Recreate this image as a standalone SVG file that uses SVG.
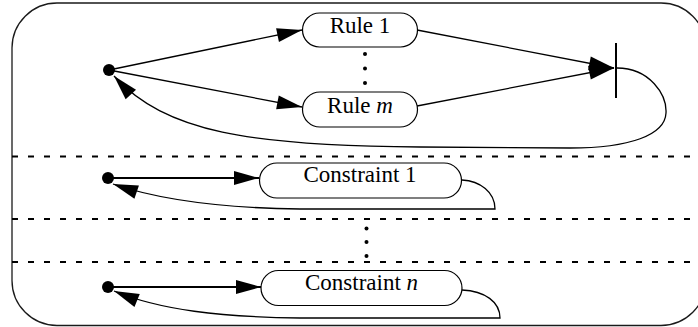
<svg xmlns="http://www.w3.org/2000/svg" width="698" height="327" viewBox="0 0 698 327">
  <style>
    .frame { fill: none; stroke: #1a1a1a; stroke-width: 1.3; }
    .sep { fill: none; stroke: #000; stroke-width: 2; stroke-dasharray: 6 10; }
    .state { fill: #fff; stroke: #000; stroke-width: 1.2; }
    .label { font-family: "Liberation Serif", "Times New Roman", serif; font-size: 23px; fill: #000; text-anchor: middle; }
    .edge { fill: none; stroke: #000; stroke-width: 1.3; }
    .edge-bold { fill: none; stroke: #000; stroke-width: 2; }
    .init { fill: #000; }
    .dot { fill: #000; }
  </style>
  <defs>
    <marker id="arrow" markerUnits="userSpaceOnUse" markerWidth="27" markerHeight="15" refX="25" refY="7" orient="auto" overflow="visible">
      <path d="M0,0 L25,7 L0,14 Z" fill="#000"/>
    </marker>
  </defs>

  <!-- outer frame and region separators -->
  <rect class="frame" x="12" y="3" width="694" height="322.5" rx="45" ry="45"/>
  <g id="separators">
    <line class="sep" x1="12" y1="156.5" x2="698" y2="156.5"/>
    <line class="sep" x1="12" y1="219" x2="698" y2="219"/>
    <line class="sep" x1="12" y1="262" x2="698" y2="262"/>
  </g>

  <!-- connectors -->
  <g id="connectors">
    <line class="edge" x1="109" y1="70" x2="302" y2="30" marker-end="url(#arrow)"/>
    <line class="edge" x1="109" y1="70" x2="302" y2="107" marker-end="url(#arrow)"/>
    <line class="edge" x1="417" y1="30" x2="614" y2="68" marker-end="url(#arrow)"/>
    <line class="edge" x1="417" y1="106" x2="614" y2="68" marker-end="url(#arrow)"/>
    <path class="edge" d="M617,68 C650,68 667,95 666,113 C665,135 630,148 570,148 L420,147 C250,146 165,132 114,76" marker-end="url(#arrow)"/>

    <line class="edge-bold" x1="108" y1="178" x2="259" y2="178" marker-end="url(#arrow)"/>
    <path class="edge" d="M462,180 C480,181 495,192 495,209 L300,209 C220,208 160,200 113,184" marker-end="url(#arrow)"/>

    <line class="edge-bold" x1="108" y1="287" x2="261" y2="287" marker-end="url(#arrow)"/>
    <path class="edge" d="M462,290 C485,291 500,302 500,318 L300,318 C220,317 160,310 114,291" marker-end="url(#arrow)"/>
  </g>

  <!-- initial pseudo-states -->
  <g id="init-rules"><circle class="init" cx="109" cy="70" r="6"/></g>
  <g id="init-constraint-1"><circle class="init" cx="108" cy="178" r="6"/></g>
  <g id="init-constraint-n"><circle class="init" cx="108" cy="287" r="6"/></g>

  <!-- rule states -->
  <g id="rule-1">
    <rect class="state" x="302.5" y="13" width="115" height="34" rx="17" ry="17"/>
    <text class="label" x="360" y="33">Rule 1</text>
  </g>
  <g id="rule-ellipsis">
    <circle class="dot" cx="365" cy="54" r="2"/>
    <circle class="dot" cx="365" cy="68.5" r="2"/>
    <circle class="dot" cx="365" cy="83" r="2"/>
  </g>
  <g id="rule-m">
    <rect class="state" x="302.5" y="92" width="115" height="35" rx="17.5" ry="17.5"/>
    <text class="label" x="360" y="113">Rule <tspan font-style="italic">m</tspan></text>
  </g>

  <!-- join bar -->
  <g id="join">
    <line stroke="#000" stroke-width="2" x1="616" y1="43" x2="616" y2="98"/>
  </g>

  <!-- constraint states -->
  <g id="constraint-1">
    <rect class="state" x="259.5" y="163" width="202" height="35" rx="17.5" ry="17.5"/>
    <text class="label" x="360" y="182">Constraint 1</text>
  </g>
  <g id="constraint-ellipsis">
    <circle class="dot" cx="366.5" cy="228.5" r="2"/>
    <circle class="dot" cx="366.5" cy="242" r="2"/>
    <circle class="dot" cx="366.5" cy="256" r="2"/>
  </g>
  <g id="constraint-n">
    <rect class="state" x="261" y="270.5" width="201" height="35" rx="17.5" ry="17.5"/>
    <text class="label" x="361.5" y="290">Constraint <tspan font-style="italic">n</tspan></text>
  </g>
</svg>
